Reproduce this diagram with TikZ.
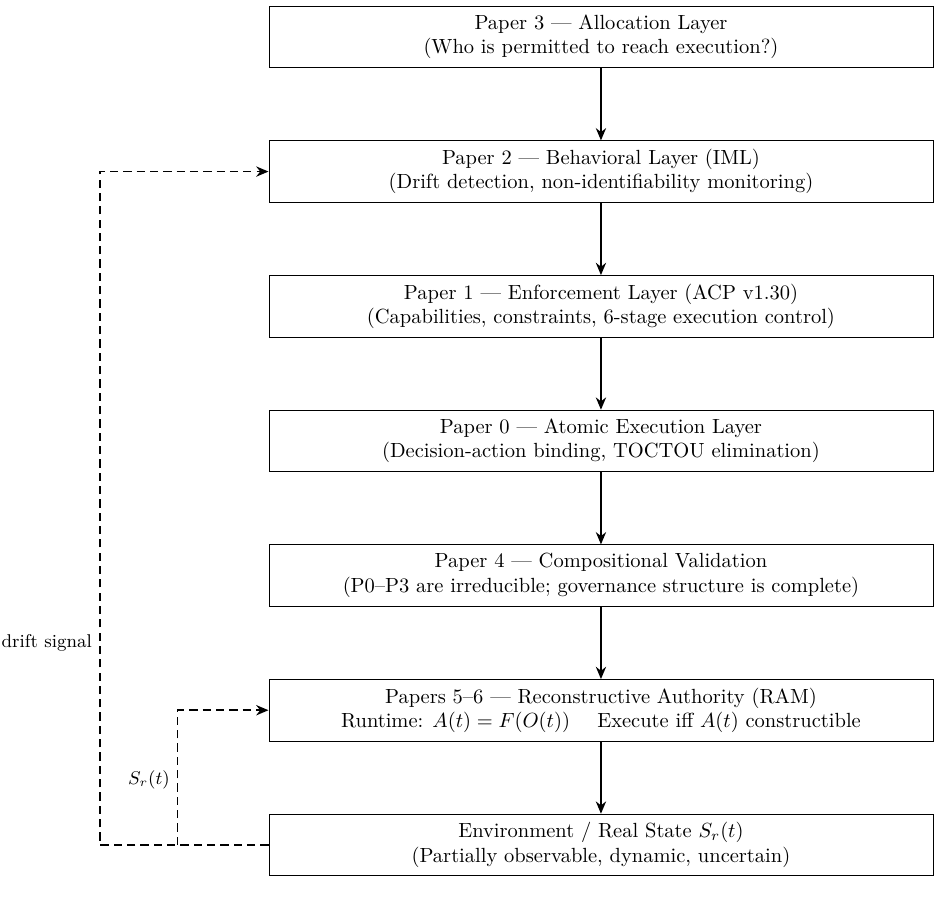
\documentclass[tikz,border=0pt]{standalone}
\usepackage{tikz}
\usetikzlibrary{calc, positioning, arrows.meta}

\begin{document}
\begin{tikzpicture}[
  node distance=35.3pt,
  layer/.style={draw, minimum width=324pt, minimum height=30pt, align=center, inner sep=2pt},
  arr/.style={-{Stealth[length=6pt, width=5pt]}, thick},
  fb/.style={arr, line width=0.9pt, dash pattern=on 4pt off 2.5pt},
  lbl/.style={font=\small, left}
]
\useasboundingbox (-293.2pt,18pt) rectangle (165.9pt,-421.5pt);

\node[layer] (alloc) {Paper 3 --- Allocation Layer\\(Who is permitted to reach execution?)};
\node[layer, below=of alloc] (behav) {Paper 2 --- Behavioral Layer (IML)\\(Drift detection, non-identifiability monitoring)};
\node[layer, below=of behav] (enforce) {Paper 1 --- Enforcement Layer (ACP v1.30)\\(Capabilities, constraints, 6-stage execution control)};
\node[layer, below=of enforce] (atomic) {Paper 0 --- Atomic Execution Layer\\(Decision-action binding, TOCTOU elimination)};
\node[layer, below=of atomic] (valid) {Paper 4 --- Compositional Validation\\(P0--P3 are irreducible; governance structure is complete)};
\node[layer, below=of valid] (ram) {Papers 5--6 --- Reconstructive Authority (RAM)\\Runtime: $A(t)=F(O(t))$ \quad Execute iff $A(t)$ constructible};
\node[layer, below=of ram] (env) {Environment / Real State $S_r(t)$\\(Partially observable, dynamic, uncertain)};

\draw[arr] (alloc) -- (behav);
\draw[arr] (behav) -- (enforce);
\draw[arr] (enforce) -- (atomic);
\draw[arr] (atomic) -- (valid);
\draw[arr] (valid) -- (ram);
\draw[arr] (ram) -- (env);

% feedback from the environment
\coordinate[left=82.4pt of env.west] (driftx);
\coordinate[left=44.4pt of env.west] (statex);
\draw[fb] (env.west) -- (driftx) |- node[lbl, pos=0.15] {drift signal} (behav.west);
\draw[fb] (statex) |- node[lbl, pos=0.24] {$S_r(t)$} (ram.west);

\end{tikzpicture}
\end{document}
